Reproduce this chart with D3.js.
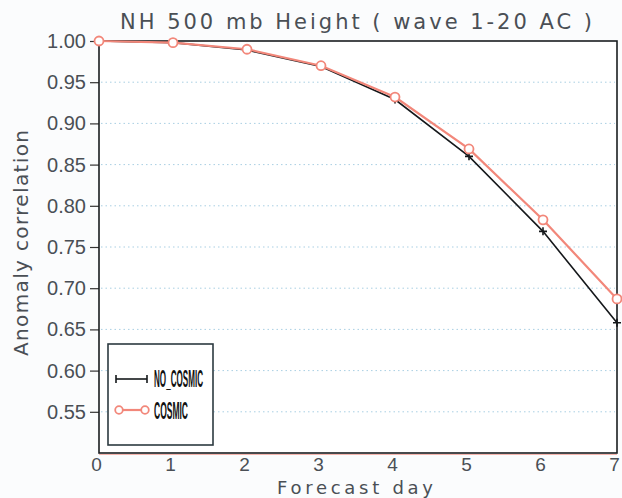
<!DOCTYPE html>
<html>
<head>
<meta charset="utf-8">
<script src="https://cdn.jsdelivr.net/npm/d3@7"></script>
<style>
  html, body { margin: 0; padding: 0; background: #fbfcfd; }
  svg { display: block; }
</style>
</head>
<body>
<svg id="chart" width="622" height="498"></svg>
<script>
// Forecast days and anomaly correlation scores per experiment
const days = [0, 1, 2, 3, 4, 5, 6, 7];
const noCosmic = [1.000, 0.998, 0.989, 0.969, 0.929, 0.860, 0.769, 0.658];
const cosmic   = [1.000, 0.998, 0.990, 0.970, 0.932, 0.869, 0.783, 0.687];
const yTicks = [0.55, 0.60, 0.65, 0.70, 0.75, 0.80, 0.85, 0.90, 0.95, 1.00];
const xTicks = [0, 1, 2, 3, 4, 5, 6, 7];
const seriesNames = ["NO_COSMIC", "COSMIC"];

const svg = d3.select("#chart");
const textColor = "#4a4f55";
const salmon = "#f2877a";

const x = d3.scaleLinear().domain([0, 7]).range([99, 617]);
const y = d3.scaleLinear().domain([0.5, 1.0]).range([453, 41]);

// plot background
svg.append("rect")
  .attr("x", x(0)).attr("y", y(1)).attr("width", x(7) - x(0)).attr("height", y(0.5) - y(1))
  .attr("fill", "#ffffff");

// dotted gridlines
svg.append("g").selectAll("line")
  .data(yTicks.filter(d => d < 1))
  .join("line")
  .attr("x1", x(0) + 2).attr("x2", x(7) - 2)
  .attr("y1", d => y(d)).attr("y2", d => y(d))
  .attr("stroke", "#a9cfe3").attr("stroke-width", 1)
  .attr("stroke-dasharray", "1.5,3");

// y axis
const yAxis = d3.axisLeft(y).tickValues(yTicks).tickFormat(d3.format(".2f")).tickSize(9).tickPadding(4);
const gy = svg.append("g").attr("transform", `translate(${x(0)},0)`).call(yAxis);
gy.select(".domain").remove();
gy.selectAll(".tick line").attr("stroke", "#333").attr("stroke-width", 1.2);
gy.selectAll(".tick text")
  .attr("fill", textColor)
  .attr("font-family", "'Liberation Sans', Arial, sans-serif")
  .attr("font-size", 20);

// x axis labels
const xAxis = d3.axisBottom(x).tickValues(xTicks).tickFormat(d3.format("d")).tickSize(0).tickPadding(5);
const gx = svg.append("g").attr("transform", `translate(0,${y(0.5)})`).call(xAxis);
gx.select(".domain").remove();
gx.selectAll(".tick text")
  .attr("dx", -3)
  .attr("fill", textColor)
  .attr("font-family", "'Liberation Sans', Arial, sans-serif")
  .attr("font-size", 19);

// frame
svg.append("line").attr("x1", x(0)).attr("x2", x(7)).attr("y1", y(0.5) + 1.5).attr("y2", y(0.5) + 1.5)
  .attr("stroke", salmon).attr("stroke-width", 1).attr("opacity", 0.6);
svg.append("rect")
  .attr("x", x(0)).attr("y", y(1)).attr("width", x(7) - x(0)).attr("height", y(0.5) - y(1))
  .attr("fill", "none").attr("stroke", "#1a1d20").attr("stroke-width", 1.6);

// series lines
const line = d3.line().x((d, i) => x(days[i])).y(d => y(d));

svg.append("path").datum(noCosmic)
  .attr("d", line).attr("fill", "none").attr("stroke", "#15181b").attr("stroke-width", 1.6);

svg.append("path").datum(cosmic)
  .attr("d", line).attr("fill", "none").attr("stroke", salmon).attr("stroke-width", 2.2);

// plus markers for NO_COSMIC
svg.append("g").selectAll("path")
  .data(noCosmic)
  .join("path")
  .attr("transform", (d, i) => `translate(${x(days[i])},${y(d)})`)
  .attr("d", "M-4,0H4M0,-4V4")
  .attr("stroke", "#15181b").attr("stroke-width", 1.6).attr("fill", "none");

// open circle markers for COSMIC
svg.append("g").selectAll("circle")
  .data(cosmic)
  .join("circle")
  .attr("cx", (d, i) => x(days[i]))
  .attr("cy", d => y(d))
  .attr("r", 4.5)
  .attr("fill", "#ffffff")
  .attr("stroke", salmon).attr("stroke-width", 1.8);

// legend
const lg = svg.append("g");
lg.append("rect")
  .attr("x", 108).attr("y", 344).attr("width", 105).attr("height", 101)
  .attr("fill", "#ffffff").attr("stroke", "#2c3a40").attr("stroke-width", 1.6);

// NO_COSMIC entry
lg.append("line").attr("x1", 116).attr("x2", 147).attr("y1", 379).attr("y2", 379)
  .attr("stroke", "#15181b").attr("stroke-width", 1.6);
lg.selectAll(".lp").data([116, 147]).join("path")
  .attr("class", "lp")
  .attr("transform", d => `translate(${d},379)`)
  .attr("d", "M0,-4V4")
  .attr("stroke", "#15181b").attr("stroke-width", 1.6);
lg.append("text")
  .attr("x", 154).attr("y", 387)
  .attr("font-family", "'Liberation Sans Narrow', 'Liberation Sans', Arial, sans-serif")
  .attr("font-size", 24).attr("font-weight", "bold")
  .attr("textLength", 49).attr("lengthAdjust", "spacingAndGlyphs")
  .attr("fill", "#111")
  .text(seriesNames[0]);

// COSMIC entry
lg.append("line").attr("x1", 119).attr("x2", 145).attr("y1", 410).attr("y2", 410)
  .attr("stroke", salmon).attr("stroke-width", 2.2);
lg.selectAll(".lc").data([119, 145]).join("circle")
  .attr("class", "lc")
  .attr("cx", d => d).attr("cy", 410).attr("r", 3.8)
  .attr("fill", "#ffffff").attr("stroke", salmon).attr("stroke-width", 1.8);
lg.append("text")
  .attr("x", 154).attr("y", 419)
  .attr("font-family", "'Liberation Sans Narrow', 'Liberation Sans', Arial, sans-serif")
  .attr("font-size", 24).attr("font-weight", "bold")
  .attr("textLength", 34).attr("lengthAdjust", "spacingAndGlyphs")
  .attr("fill", "#111")
  .text(seriesNames[1]);

// title
svg.append("text")
  .attr("x", 120).attr("y", 29)
  .attr("font-family", "'DejaVu Sans', sans-serif")
  .attr("font-size", 21)
  .attr("textLength", 472).attr("lengthAdjust", "spacing")
  .attr("fill", textColor)
  .text("NH 500 mb Height ( wave 1-20 AC )");

// axis titles
svg.append("text")
  .attr("transform", "translate(28,243) rotate(-90)")
  .attr("text-anchor", "middle")
  .attr("font-family", "'DejaVu Sans', sans-serif")
  .attr("font-size", 20)
  .attr("textLength", 226).attr("lengthAdjust", "spacing")
  .attr("fill", textColor)
  .text("Anomaly correlation");

svg.append("text")
  .attr("x", 355).attr("y", 494)
  .attr("text-anchor", "middle")
  .attr("font-family", "'DejaVu Sans', sans-serif")
  .attr("font-size", 18)
  .attr("textLength", 156).attr("lengthAdjust", "spacing")
  .attr("fill", textColor)
  .text("Forecast day");
</script>
</body>
</html>
